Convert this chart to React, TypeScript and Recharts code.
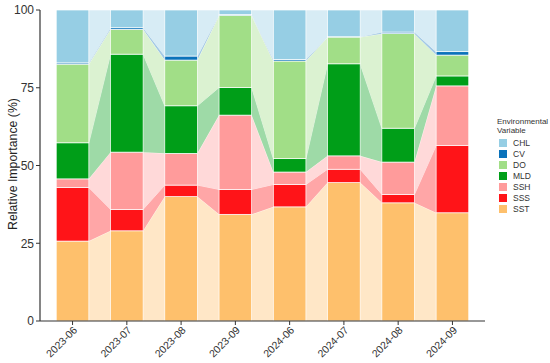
import { ComposedChart, Bar, Area, XAxis, YAxis } from "recharts";

const months = ["2023-06", "2023-07", "2023-08", "2023-09", "2024-06", "2024-07", "2024-08", "2024-09"];

// relative importance (%) per month, bottom to top
const SST = [25.7, 29.0, 40.0, 34.3, 36.7, 44.5, 38.0, 34.8];
const SSS = [17.2, 6.9, 3.7, 8.0, 7.2, 4.3, 2.7, 21.6];
const SSH = [2.8, 18.4, 10.2, 23.9, 4.0, 4.3, 10.4, 19.2];
const MLD = [11.6, 31.5, 15.3, 8.9, 4.3, 29.6, 10.9, 3.2];
const DO = [25.3, 8.0, 14.7, 23.2, 31.4, 8.6, 30.4, 6.7];
const CV = [0.4, 0.5, 1.3, 0.2, 0.5, 0.1, 0.5, 1.1];
const CHL = [17.0, 5.7, 14.8, 1.5, 15.9, 8.6, 7.1, 13.4];

const yTicks = [0, 25, 50, 75, 100];

const series = [
  { key: "SST", values: SST, color: "#FEC06C" },
  { key: "SSS", values: SSS, color: "#FF1418" },
  { key: "SSH", values: SSH, color: "#FF9B9B" },
  { key: "MLD", values: MLD, color: "#009E18" },
  { key: "DO", values: DO, color: "#A1DE87" },
  { key: "CV", values: CV, color: "#0A72BA" },
  { key: "CHL", values: CHL, color: "#96CEE4" },
];

const legendOrder = ["CHL", "CV", "DO", "MLD", "SSH", "SSS", "SST"];

const HALF = 0.3; // half bar width in category units
const BAR_PX = 32.6;

// each month gets a left edge, centre and right edge row so the ribbons stay flat across the bar
const rows: any[] = [];
months.forEach((m, i) => {
  [-HALF, 0, HALF].forEach((off) => {
    const row: any = { x: i + off, month: m };
    series.forEach((s) => {
      row[s.key + "_r"] = s.values[i];
      if (off === 0) row[s.key] = s.values[i];
    });
    rows.push(row);
  });
});

const FONT = "'Liberation Sans', Arial, sans-serif";

function MonthTick({ x, y, payload }: any) {
  const ax = x + 2.5;
  const ay = y + 1;
  return (
    <text
      x={ax}
      y={ay}
      transform={`rotate(-45, ${ax}, ${ay})`}
      textAnchor="end"
      fontSize={10.5}
      fill="#333"
      fontFamily={FONT}
      dominantBaseline="central"
    >
      {months[payload.value]}
    </text>
  );
}

function YLabel() {
  return (
    <text
      x={13}
      y={164}
      transform="rotate(-90, 13, 164)"
      textAnchor="middle"
      dominantBaseline="central"
      fontSize={12.3}
      fill="#222"
      fontFamily={FONT}
    >
      Relative Importance (%)
    </text>
  );
}

// wide bar drawn around the centre the scale gives
function WideBar(props: any) {
  const { x, y, width, height, fill } = props;
  if (!isFinite(x) || !isFinite(y) || !isFinite(height) || height <= 0) return <g />;
  const cx = x + width / 2;
  return <rect x={cx - BAR_PX / 2} y={y} width={BAR_PX} height={height} fill={fill} stroke="#fff" strokeWidth={0.7} />;
}

export default function App() {
  return (
    <div style={{ position: "absolute", left: 0, top: 0, width: 550, height: 363, background: "#fff" }}>
      <ComposedChart
        width={550}
        height={363}
        data={rows}
        margin={{ top: 10, right: 65, bottom: 0, left: 0 }}
      >
        <XAxis
          dataKey="x"
          type="number"
          domain={[-0.6, 7.6]}
          ticks={[0, 1, 2, 3, 4, 5, 6, 7]}
          allowDataOverflow
          height={42}
          tick={<MonthTick />}
          tickSize={4}
          axisLine={{ stroke: "#333", strokeWidth: 1.2 }}
          tickLine={{ stroke: "#333" }}
          interval={0}
        />
        <YAxis
          type="number"
          domain={[0, 100]}
          ticks={yTicks}
          width={40}
          tickSize={4}
          tick={{ fontSize: 12, fill: "#333", fontFamily: FONT }}
          axisLine={{ stroke: "#333", strokeWidth: 1.2 }}
          tickLine={{ stroke: "#333" }}
          label={{ content: () => <YLabel /> }}
        />
        {series.map((s) => (
          <Area
            key={s.key + "_r"}
            dataKey={s.key + "_r"}
            stackId="ribbon"
            type="linear"
            fill={s.color}
            fillOpacity={0.38}
            stroke="#fff"
            strokeWidth={0.6}
            isAnimationActive={false}
            dot={false}
            activeDot={false}
          />
        ))}
        {series.map((s) => (
          <Bar
            key={s.key}
            dataKey={s.key}
            stackId="bars"
            fill={s.color}
            shape={<WideBar />}
            isAnimationActive={false}
          />
        ))}
      </ComposedChart>
      <div
        style={{
          position: "absolute",
          left: 497,
          top: 117,
          fontFamily: FONT,
          fontSize: 8.5,
          color: "#333",
        }}
      >
        <div style={{ fontSize: 8, lineHeight: "9px", marginBottom: 2, whiteSpace: "nowrap" }}>
          Environmental
          <br />
          Variable
        </div>
        {legendOrder.map((k) => {
          const s = series.find((d) => d.key === k)!;
          return (
            <div key={k} style={{ display: "flex", alignItems: "center", height: 11 }}>
              <span style={{ width: 8, height: 8, background: s.color, display: "inline-block", marginLeft: 2, marginRight: 6 }} />
              <span>{k}</span>
            </div>
          );
        })}
      </div>
    </div>
  );
}
